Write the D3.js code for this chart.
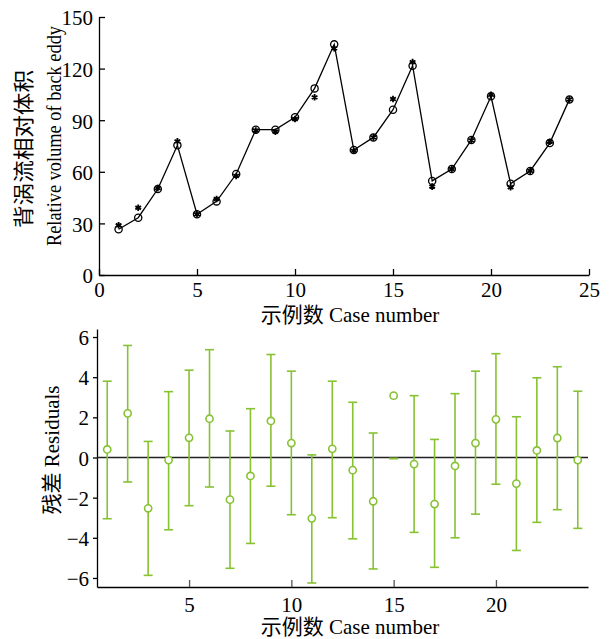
<!DOCTYPE html>
<html lang="zh">
<head>
<meta charset="UTF-8" />
<title>Back eddy volume - residuals</title>
<script src="https://d3js.org/d3.v7.min.js"></script>
<style>
  body { margin: 0; background: #fff; }
  svg text { font-family: "Liberation Serif", "Noto Sans CJK SC", serif; fill: #000; }
</style>
</head>
<body>
<svg id="chart" width="614" height="639"></svg>
<script>
// case numbers
const cases = [1, 2, 3, 4, 5, 6, 7, 8, 9, 10, 11, 12, 13, 14, 15, 16, 17, 18, 19, 20, 21, 22, 23, 24];
// relative volume of back eddy: circles (joined by the line) and asterisks
const predicted = [26.6, 33.3, 50.0, 75.4, 35.3, 42.8, 58.7, 84.5, 84.5, 91.7, 108.5, 134.1,
                   72.7, 80.0, 96.1, 121.7, 54.7, 61.6, 78.5, 103.9, 53.1, 60.5, 76.7, 102.1];
const measured = [28.9, 39.1, 50.5, 77.7, 35.3, 44.2, 57.6, 84.0, 83.3, 90.7, 103.3, 131.8,
                  72.2, 80.0, 102.3, 123.8, 51.4, 61.6, 78.3, 104.7, 51.0, 60.5, 77.5, 102.1];
// residuals with their interval ends
const residual = [0.4, 2.2, -2.53, -0.13, 0.98, 1.93, -2.1, -0.92, 1.82, 0.72, -3.03, 0.43,
                  -0.63, -2.18, 3.08, -0.33, -2.32, -0.42, 0.72, 1.9, -1.3, 0.35, 0.97, -0.13];
const upper = [3.8, 5.58, 0.8, 3.28, 4.35, 5.37, 1.32, 2.43, 5.13, 4.3, 0.13, 3.8,
               2.75, 1.22, -0.05, 3.08, 0.9, 3.18, 4.3, 5.17, 2.03, 3.97, 4.52, 3.3];
const lower = [-3.05, -1.22, -5.87, -3.6, -2.4, -1.47, -5.52, -4.28, -1.43, -2.85, -6.25, -3.0,
               -4.05, -5.55, -0.05, -3.73, -5.47, -4.0, -2.82, -1.33, -4.63, -3.23, -2.6, -3.53];

const topXTicks = [0, 5, 10, 15, 20, 25];
const topYTicks = [0, 30, 60, 90, 120, 150];
const botXTicks = [5, 10, 15, 20];
const botYTicks = [-6, -4, -2, 0, 2, 4, 6];

const green = "#86c232";
const serif = '"Liberation Serif", "Noto Sans CJK SC", serif';
const svg = d3.select("#chart");

// ---------- top panel ----------
const x1 = d3.scaleLinear().domain([0, 25]).range([99, 589]);
const y1 = d3.scaleLinear().domain([0, 150]).range([275, 17]);

const topG = svg.append("g");

topG.append("g")
    .attr("transform", "translate(0,275)")
    .call(d3.axisBottom(x1).tickValues(topXTicks).tickSizeInner(-6).tickSizeOuter(0))
    .call(g => g.selectAll("text").attr("y", 22).attr("dy", null));

topG.append("g")
    .attr("transform", "translate(99,0)")
    .call(d3.axisLeft(y1).tickValues(topYTicks).tickSizeInner(-6).tickSizeOuter(0).tickPadding(6))
    .call(g => g.selectAll("text").attr("dy", "0.38em"));

topG.selectAll("g").attr("font-family", null);
topG.selectAll(".tick text").style("font-family", serif).style("font-size", "21px");
topG.selectAll(".domain, .tick line").attr("stroke", "#000").attr("stroke-width", 1.3);

const line = d3.line().x((d, i) => x1(cases[i])).y(d => y1(d));
topG.append("path")
    .datum(predicted)
    .attr("d", line)
    .attr("fill", "none")
    .attr("stroke", "#000")
    .attr("stroke-width", 1.3);

topG.selectAll(".star")
    .data(measured)
    .join("path")
    .attr("class", "star")
    .attr("transform", (d, i) => `translate(${x1(cases[i])},${y1(d)})`)
    .attr("d", d3.symbol(d3.symbolAsterisk, 30))
    .attr("fill", "none")
    .attr("stroke", "#000")
    .attr("stroke-width", 1.8);

topG.selectAll(".ring")
    .data(predicted)
    .join("circle")
    .attr("class", "ring")
    .attr("cx", (d, i) => x1(cases[i]))
    .attr("cy", d => y1(d))
    .attr("r", 3.6)
    .attr("fill", "none")
    .attr("stroke", "#000")
    .attr("stroke-width", 1.3);

topG.append("text")
    .attr("x", 350).attr("y", 322)
    .attr("text-anchor", "middle")
    .style("font-size", "21px")
    .text("示例数 Case number");

topG.append("text")
    .attr("transform", "translate(31,149) rotate(-90)")
    .attr("text-anchor", "middle")
    .attr("textLength", 158)
    .attr("lengthAdjust", "spacingAndGlyphs")
    .style("font-size", "21px")
    .text("背涡流相对体积");

topG.append("text")
    .attr("transform", "translate(61,136) rotate(-90)")
    .attr("text-anchor", "middle")
    .attr("textLength", 220)
    .attr("lengthAdjust", "spacingAndGlyphs")
    .style("font-size", "20.5px")
    .text("Relative volume of back eddy");

// ---------- bottom panel ----------
const x2 = d3.scaleLinear().domain([0.5, 24.5]).range([97, 588]);
const y2 = d3.scaleLinear().domain([-6.45, 6.4]).range([587, 329]);

const botG = svg.append("g");

botG.append("g")
    .attr("transform", "translate(0,587)")
    .call(d3.axisBottom(x2).tickValues(botXTicks).tickSizeInner(-7).tickSizeOuter(0))
    .call(g => g.selectAll("text").attr("y", 25).attr("dy", null))
    .call(g => g.selectAll(".tick line").attr("stroke", "#555"));

botG.append("g")
    .attr("transform", "translate(97,0)")
    .call(d3.axisLeft(y2).tickValues(botYTicks).tickSizeInner(4).tickSizeOuter(0).tickPadding(4)
        .tickFormat(d => d < 0 ? "\u2212" + Math.abs(d) : d))
    .call(g => g.selectAll("text").attr("dy", "0.36em"));

botG.selectAll("g").attr("font-family", null);
botG.selectAll(".tick text").style("font-family", serif).style("font-size", "21px");
botG.selectAll(".domain").attr("stroke", "#000").attr("stroke-width", 1.3);
botG.selectAll(".tick line").attr("stroke-width", 1.3);

botG.append("line")
    .attr("x1", x2(0.5)).attr("x2", x2(24.5))
    .attr("y1", y2(0)).attr("y2", y2(0))
    .attr("stroke", "#222")
    .attr("stroke-width", 1.3);

const bars = botG.selectAll(".bar")
    .data(cases)
    .join("g")
    .attr("class", "bar")
    .attr("stroke", green)
    .attr("stroke-width", 1.6)
    .attr("fill", "none");

bars.append("line")
    .attr("x1", d => x2(d)).attr("x2", d => x2(d))
    .attr("y1", (d, i) => y2(upper[i])).attr("y2", (d, i) => y2(lower[i]));
bars.append("line")
    .attr("x1", d => x2(d) - 4.5).attr("x2", d => x2(d) + 4.5)
    .attr("y1", (d, i) => y2(upper[i])).attr("y2", (d, i) => y2(upper[i]));
bars.append("line")
    .attr("x1", d => x2(d) - 4.5).attr("x2", d => x2(d) + 4.5)
    .attr("y1", (d, i) => y2(lower[i])).attr("y2", (d, i) => y2(lower[i]));
bars.append("circle")
    .attr("cx", d => x2(d))
    .attr("cy", (d, i) => y2(residual[i]))
    .attr("r", 3.6)
    .attr("fill", "#fff");

botG.append("text")
    .attr("x", 350).attr("y", 634)
    .attr("text-anchor", "middle")
    .style("font-size", "21px")
    .text("示例数 Case number");

botG.append("text")
    .attr("transform", "translate(59,450) rotate(-90)")
    .attr("text-anchor", "middle")
    .style("font-size", "21px")
    .text("残差 Residuals");
</script>
</body>
</html>
